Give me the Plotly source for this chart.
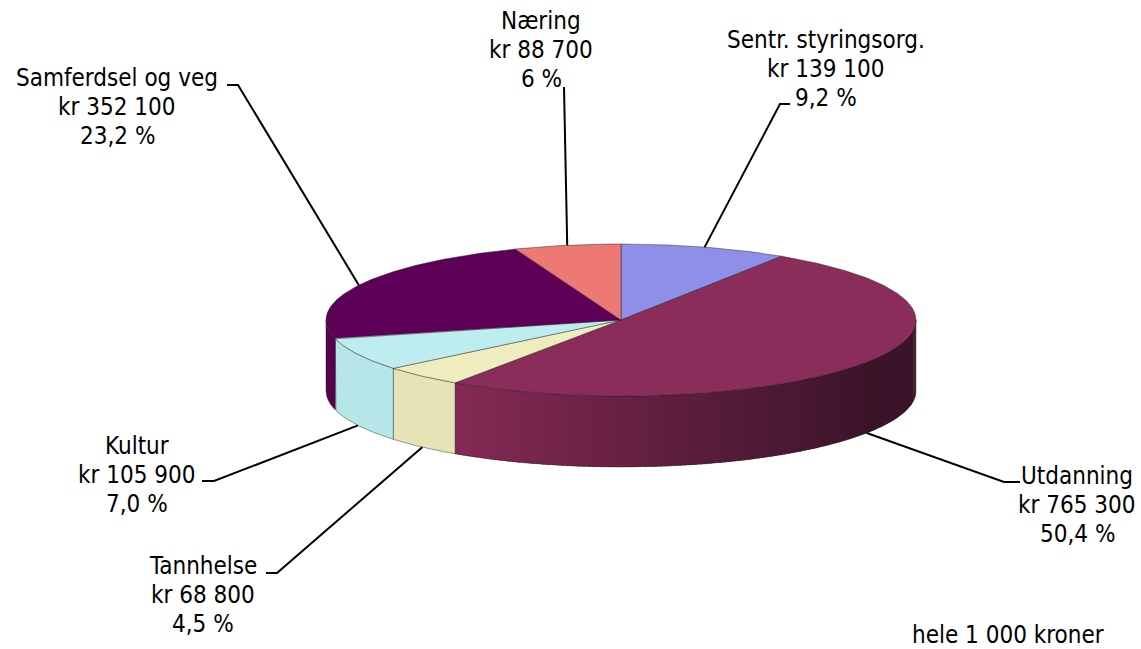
import numpy as np
import plotly.graph_objects as go

# ---------------- data ----------------
categories = ["Sentr. styringsorg.", "Utdanning", "Tannhelse", "Kultur", "Samferdsel og veg", "Næring"]
values = [139100, 765300, 68800, 105900, 352100, 88700]
pct_labels = ["9,2 %", "50,4 %", "4,5 %", "7,0 %", "23,2 %", "6 %"]
footnote = "hele 1 000 kroner"

# ---------------- style ----------------
top_colors = ["#8f8fea", "#8b2d5b", "#efedc0", "#bdedee", "#5e0058", "#ee7874"]
side_colors = ["#7a7ad0", "#7a2850", "#e6e4b6", "#b6e6e8", "#56004f", "#d86a66"]
FONT = "DejaVu Sans Condensed, Liberation Sans Narrow, DejaVu Sans, sans-serif"
FS = 24

W, H = 1141, 649
cx, cy = 621, 320          # pie centre (px)
rx, ry = 295, 76           # ellipse radii
depth = 71                 # thickness of the pie

# label layout: text centre x, first baseline y, leader polyline start points
label_layout = {
    "Sentr. styringsorg.": dict(x=826, y0=47, lead=[(790, 104), (780, 104)]),
    "Utdanning": dict(x=1077, y0=483, lead=[(1020, 482), (1004, 482)]),
    "Tannhelse": dict(x=203, y0=573, lead=[(266, 573), (277, 573)]),
    "Kultur": dict(x=137, y0=453, lead=[(202, 481), (214, 481)]),
    "Samferdsel og veg": dict(x=117, y0=85, lead=[(227, 85), (238, 85)]),
    "Næring": dict(x=541, y0=28, lead=[(564, 87)]),
}
LINE_H = 29


def pt(theta_deg, dy=0.0):
    t = np.radians(theta_deg)
    return cx + rx * np.sin(t), cy - ry * np.cos(t) + dy


def arc(a1, a2, dy=0.0, n=None):
    if n is None:
        n = max(int(abs(a2 - a1) * 2), 2)
    th = np.linspace(a1, a2, n)
    xs, ys = pt(th, dy)
    return list(xs), list(ys)


fig = go.Figure()

total = float(sum(values))
fracs = [v / total for v in values]
bounds = np.concatenate([[0], np.cumsum(fracs)]) * 360.0

EDGE = "rgba(30,30,30,0.55)"


def side_poly(s, e):
    xt, yt = arc(s, e)
    xb, yb = arc(e, s, depth)
    return xt + xb + [xt[0]], yt + yb + [yt[0]]


# ---- side walls (front half: 90..270 deg) ----
for i, cat in enumerate(categories):
    a1, a2 = bounds[i], bounds[i + 1]
    s, e = max(a1, 90), min(a2, 270)
    if e <= s:
        continue
    if cat == "Utdanning":
        # shaded wall drawn as thin strips
        c_left = np.array([133, 42, 86])
        c_right = np.array([58, 20, 40])
        xl, xr = pt(e)[0], cx + rx * 0.88
        steps = np.arange(s, e, 1.0)
        for a in steps:
            b = min(a + 1.6, e)
            xm = pt((a + b) / 2)[0]
            f = np.clip((xm - xl) / (xr - xl), 0, 1)
            c = (c_left * (1 - f) + c_right * f).astype(int)
            px, py = side_poly(a, b)
            fig.add_trace(go.Scatter(x=px, y=py, mode="lines", fill="toself",
                                     fillcolor=f"rgb({c[0]},{c[1]},{c[2]})",
                                     line=dict(width=0), hoverinfo="skip"))
        px, py = side_poly(s, e)
        fig.add_trace(go.Scatter(x=px, y=py, mode="lines",
                                 line=dict(width=0.8, color=EDGE), hoverinfo="skip"))
    else:
        px, py = side_poly(s, e)
        fig.add_trace(go.Scatter(x=px, y=py, mode="lines", fill="toself",
                                 fillcolor=side_colors[i],
                                 line=dict(width=0.8, color=EDGE), hoverinfo="skip"))

# ---- top faces ----
for i, cat in enumerate(categories):
    a1, a2 = bounds[i], bounds[i + 1]
    xs, ys = arc(a1, a2)
    px = [cx] + xs + [cx]
    py = [cy] + ys + [cy]
    fig.add_trace(go.Scatter(x=px, y=py, mode="lines", fill="toself",
                             fillcolor=top_colors[i],
                             line=dict(width=0.8, color=EDGE), hoverinfo="skip"))

# ---- leader lines and labels ----
annotations = []
for i, cat in enumerate(categories):
    mid = (bounds[i] + bounds[i + 1]) / 2
    dy = depth if 90 < mid < 270 else 0
    ex, ey = pt(mid, dy)
    lay = label_layout[cat]
    lx = [p[0] for p in lay["lead"]] + [ex]
    ly = [p[1] for p in lay["lead"]] + [ey]
    fig.add_trace(go.Scatter(x=lx, y=ly, mode="lines",
                             line=dict(width=2, color="black"), hoverinfo="skip"))
    lines = [cat, "kr " + f"{values[i]:,}".replace(",", " "), pct_labels[i]]
    for k, txt in enumerate(lines):
        annotations.append(dict(x=lay["x"], y=lay["y0"] + k * LINE_H - 7,
                                xref="x", yref="y", text=txt, showarrow=False,
                                xanchor="center", yanchor="middle",
                                font=dict(family=FONT, size=FS, color="black")))

annotations.append(dict(x=1008, y=635, xref="x", yref="y", text=footnote,
                        showarrow=False, xanchor="center", yanchor="middle",
                        font=dict(family=FONT, size=FS, color="black")))

fig.update_layout(
    width=W, height=H,
    margin=dict(l=0, r=0, t=0, b=0),
    paper_bgcolor="white", plot_bgcolor="white",
    showlegend=False,
    xaxis=dict(range=[0, W], visible=False, fixedrange=True),
    yaxis=dict(range=[H, 0], visible=False, fixedrange=True),
    annotations=annotations,
)

fig.write_html(
    "out.html",
    config={"displayModeBar": False},
    post_script="document.body.style.margin='0';document.body.style.overflow='hidden';",
)
